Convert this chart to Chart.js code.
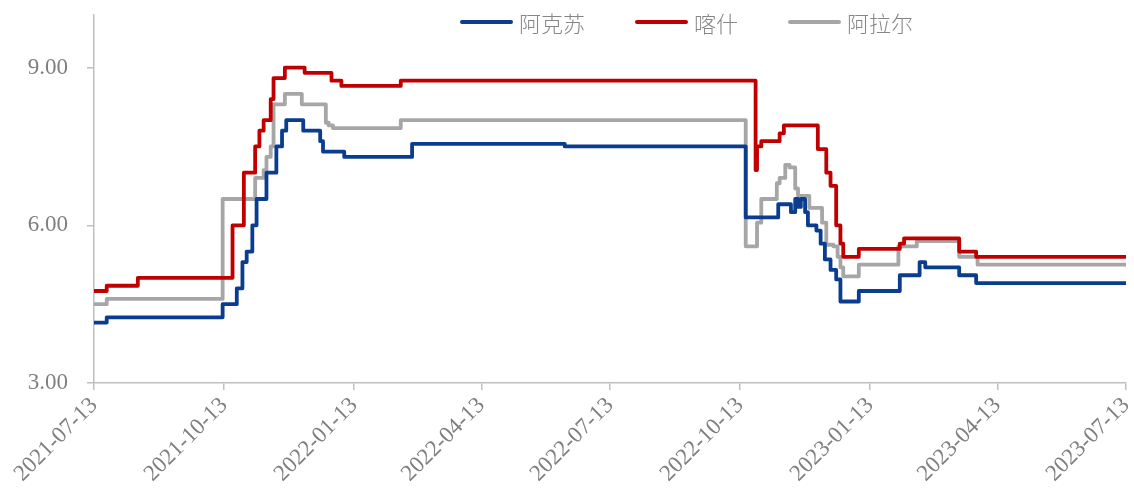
<!DOCTYPE html>
<html>
<head>
<meta charset="utf-8">
<script src="https://cdn.jsdelivr.net/npm/chart.js@4.4.0/dist/chart.umd.min.js"></script>
<style>
  body { margin: 0; background: #fff; }
  #wrap { position: relative; width: 1134px; height: 493px; }
  #legend {
    position: absolute; left: 460px; top: 6px;
    display: flex; align-items: center;
    font-family: "Noto Sans CJK SC"; font-weight: 300; font-size: 22px; color: #868686;
  }
  .item { display: flex; align-items: center; margin-right: 50px; }
  .swatch { width: 53px; height: 4px; border-radius: 2px; margin-right: 6px; }
</style>
</head>
<body>
<div id="wrap">
  <canvas id="chart" width="1134" height="493"></canvas>
  <div id="legend"></div>
</div>
<script>
const seriesNames = ['阿克苏', '喀什', '阿拉尔'];
const seriesColors = ['#0a3d8f', '#c00000', '#a6a6a6'];

const tickDates = ['2021-07-13', '2021-10-13', '2022-01-13', '2022-04-13', '2022-07-13',
  '2022-10-13', '2023-01-13', '2023-04-13', '2023-07-13'];
const yTicks = [3, 6, 9];

// 阿克苏: date the price changed, new price
const akesuDates = ['2021-07-13', '2021-07-22', '2021-10-12', '2021-10-22', '2021-10-26', '2021-10-29',
  '2021-11-02', '2021-11-05', '2021-11-12', '2021-11-19', '2021-11-23', '2021-11-26', '2021-12-08',
  '2021-12-20', '2021-12-22', '2022-01-06', '2022-02-23', '2022-06-11', '2022-10-17', '2022-11-09',
  '2022-11-18', '2022-11-21', '2022-11-23', '2022-11-25', '2022-11-28', '2022-11-30', '2022-12-06',
  '2022-12-09', '2022-12-12', '2022-12-16', '2022-12-20', '2022-12-23', '2022-12-25', '2023-01-05',
  '2023-02-03', '2023-02-17', '2023-02-21', '2023-03-17', '2023-03-29', '2023-07-13'];
const akesuValues = [4.15, 4.25, 4.5, 4.8, 5.3, 5.5,
  6.0, 6.5, 7.0, 7.5, 7.8, 8.0, 7.8,
  7.6, 7.4, 7.3, 7.55, 7.5, 6.15, 6.4,
  6.25, 6.5, 6.35, 6.5, 6.25, 6.0, 5.9,
  5.65, 5.35, 5.15, 4.97, 4.55, 4.55, 4.75,
  5.05, 5.3, 5.2, 5.05, 4.9, 4.9];

// 喀什
const kashiDates = ['2021-07-13', '2021-07-22', '2021-08-13', '2021-10-19', '2021-10-27', '2021-11-04',
  '2021-11-07', '2021-11-10', '2021-11-15', '2021-11-17', '2021-11-25', '2021-12-09', '2021-12-28',
  '2022-01-04', '2022-02-15', '2022-10-24', '2022-10-25', '2022-10-28', '2022-11-10', '2022-11-13',
  '2022-12-07', '2022-12-13', '2022-12-16', '2022-12-20', '2022-12-23', '2022-12-25', '2023-01-05',
  '2023-02-03', '2023-02-06', '2023-03-17', '2023-03-29', '2023-07-13'];
const kashiValues = [4.75, 4.85, 5.0, 6.0, 7.0, 7.5,
  7.8, 8.0, 8.4, 8.8, 9.0, 8.9, 8.75,
  8.65, 8.75, 7.05, 7.5, 7.6, 7.75, 7.9,
  7.45, 7.0, 6.75, 6.0, 5.65, 5.4, 5.55,
  5.65, 5.75, 5.5, 5.4, 5.4];

// 阿拉尔
const alaerDates = ['2021-07-13', '2021-07-22', '2021-10-12', '2021-11-04', '2021-11-10', '2021-11-12',
  '2021-11-15', '2021-11-17', '2021-11-19', '2021-11-25', '2021-12-07', '2021-12-24', '2021-12-26',
  '2021-12-29', '2022-02-15', '2022-10-17', '2022-10-25', '2022-10-28', '2022-11-08', '2022-11-10',
  '2022-11-14', '2022-11-17', '2022-11-21', '2022-11-23', '2022-11-27', '2022-12-01', '2022-12-10',
  '2022-12-13', '2022-12-18', '2022-12-21', '2022-12-23', '2022-12-25', '2023-01-05', '2023-02-02',
  '2023-02-15', '2023-03-17', '2023-03-30', '2023-07-13'];
const alaerValues = [4.5, 4.6, 6.5, 6.9, 7.05, 7.3,
  7.5, 8.3, 8.3, 8.5, 8.3, 7.95, 7.9,
  7.85, 8.0, 5.6, 6.05, 6.5, 6.8, 6.9,
  7.15, 7.1, 6.7, 6.56, 6.56, 6.33, 6.05,
  5.63, 5.6, 5.4, 5.2, 5.03, 5.25, 5.6,
  5.7, 5.4, 5.25, 5.25];

const start = Date.parse(tickDates[0]);
const toDay = s => Math.round((Date.parse(s) - start) / 86400000);
const tickDays = tickDates.map(toDay);

function points(dates, values) {
  return dates.map((d, i) => ({ x: toDay(d), y: values[i] }));
}

const allDates = [akesuDates, kashiDates, alaerDates];
const allValues = [akesuValues, kashiValues, alaerValues];

const datasets = seriesNames.map((name, i) => ({
  label: name,
  data: points(allDates[i], allValues[i]),
  borderColor: seriesColors[i],
  backgroundColor: seriesColors[i],
  borderWidth: 3.8,
  stepped: true,
  pointRadius: 0,
  borderJoinStyle: 'round',
  borderCapStyle: 'round',
  fill: false
}));

// legend as html
const legend = document.getElementById('legend');
seriesNames.forEach((name, i) => {
  const item = document.createElement('div');
  item.className = 'item';
  const sw = document.createElement('span');
  sw.className = 'swatch';
  sw.style.background = seriesColors[i];
  const txt = document.createElement('span');
  txt.textContent = name;
  item.appendChild(sw);
  item.appendChild(txt);
  legend.appendChild(item);
});

const axisColor = '#bfbfbf';
const labelColor = '#7f7f7f';

// drop the label overhang padding so the plot area sits where the picture has it
function noPad(s) {
  s.paddingTop = 0; s.paddingBottom = 0; s.paddingLeft = 0; s.paddingRight = 0;
}

new Chart(document.getElementById('chart'), {
  type: 'line',
  data: { datasets: datasets },
  options: {
    responsive: false,
    animation: false,
    layout: { padding: { top: 15, right: 8, left: 0, bottom: 0 } },
    plugins: {
      legend: { display: false },
      tooltip: { enabled: false }
    },
    scales: {
      x: {
        type: 'linear',
        min: 0,
        max: tickDays[tickDays.length - 1],
        afterBuildTicks: s => { s.ticks = tickDays.map(v => ({ value: v })); },
        afterFit: s => { s.height = 110; noPad(s); },
        grid: { drawOnChartArea: false, drawTicks: true, tickLength: 7, color: axisColor, lineWidth: 1.5 },
        border: { display: true, color: axisColor, width: 1.5 },
        ticks: {
          autoSkip: false,
          maxRotation: 45,
          minRotation: 45,
          padding: 2,
          color: labelColor,
          font: { family: 'Liberation Serif', size: 23 },
          callback: v => tickDates[tickDays.indexOf(v)] || ''
        }
      },
      y: {
        min: 3,
        max: 10,
        afterBuildTicks: s => { s.ticks = yTicks.map(v => ({ value: v })); },
        afterFit: s => { s.width = 94; noPad(s); },
        grid: { drawOnChartArea: false, drawTicks: true, tickLength: 7, color: axisColor, lineWidth: 1.5 },
        border: { display: true, color: axisColor, width: 1.5 },
        ticks: {
          padding: 19,
          color: labelColor,
          font: { family: 'Liberation Serif', size: 23 },
          callback: v => v.toFixed(2)
        }
      }
    }
  }
});
</script>
</body>
</html>
